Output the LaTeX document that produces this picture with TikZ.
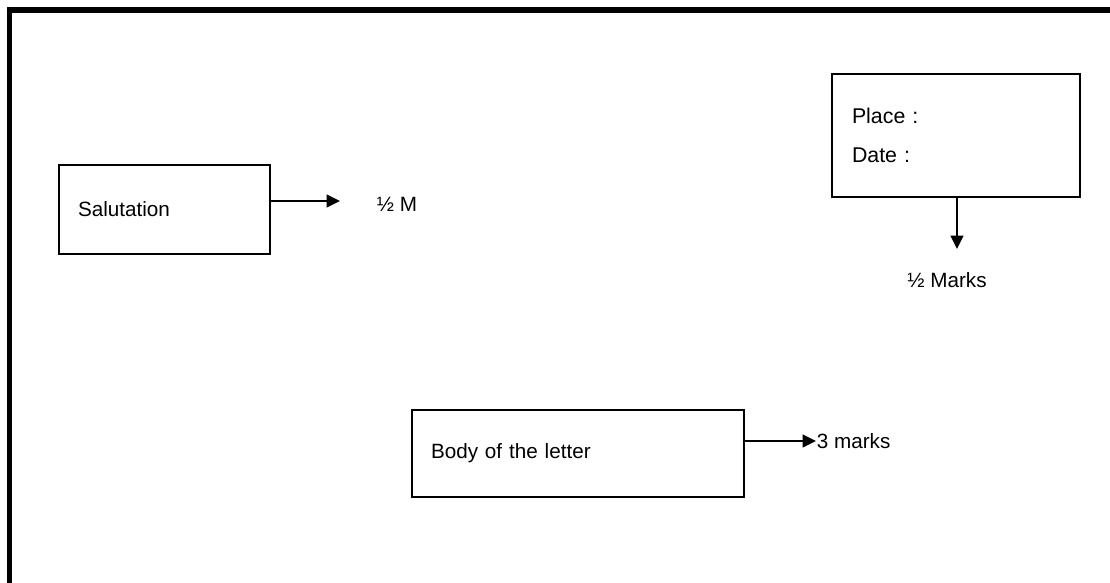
\documentclass[tikz,border=0pt]{standalone}
\usepackage{fontspec}
\setmainfont{Liberation Sans}
\usetikzlibrary{positioning}
\usetikzlibrary{arrows.meta}
\tikzset{box node/.style={rectangle,draw,line width=1.3pt,align=left,inner ysep=0pt,font=\fontsize{15.5}{18}\selectfont},
         mark node/.style={inner sep=0pt,font=\fontsize{15.5}{18}\selectfont},}

\begin{document}
\begin{tikzpicture}[x=0.75pt,y=-0.75pt,-{Triangle[length=10pt,width=9.5pt]},line width=1.4pt]
    \useasboundingbox (0,0) rectangle (1110,582);
    % frame
    \draw[-,line width=3.8pt] (1112,10) -- (9.3,10) -- (9.3,584);

    \node[box node,minimum width=158.25pt,minimum height=66.75pt,text width=129.75pt,inner xsep=14.25pt] (sal) at (164.5,209.5) {Salutation\\[10pt]};
    \node[box node,minimum width=186pt,minimum height=92.25pt,text width=156pt,inner xsep=15pt,font=\fontsize{16}{29}\selectfont] (date) at (956,135.5) {Place :\\Date :\\[9pt]};
    \node[box node,minimum width=249pt,minimum height=65.25pt,text width=220.5pt,inner xsep=14.25pt] (body) at (578,453.5) {Body of the letter\\[6pt]};

    \node[mark node] (half) [right = 78.75pt of sal, yshift=4pt] {½ M};
    \node[mark node] (halfmarks) at (947,280) {½ Marks};
    \node[mark node,anchor=west] (three) at (816,441) {3 marks};

    \coordinate (salend) at (340,201);
    \coordinate (dateend) at (957,249);

    \draw (sal.east |- salend) -- (salend);
    \draw (date.south -| dateend) -- (dateend);
    \draw (body.east |- three.west) -- (three.west);
\end{tikzpicture}
\end{document}
